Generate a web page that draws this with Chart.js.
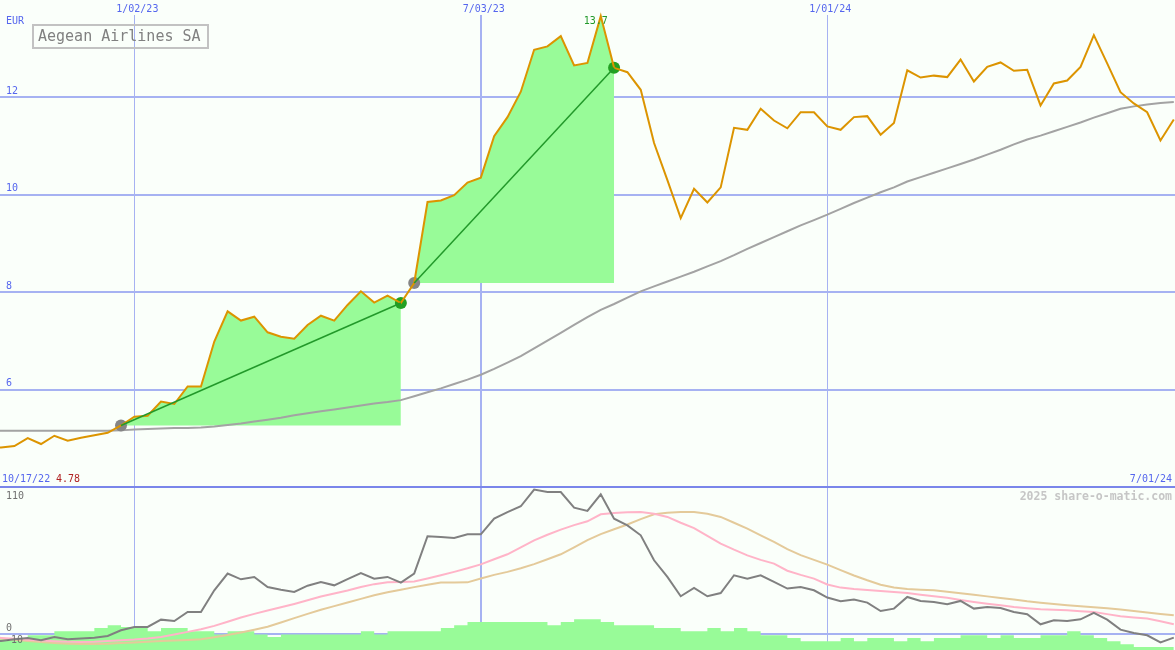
<!DOCTYPE html>
<html>
<head>
<meta charset="utf-8">
<script src="https://cdn.jsdelivr.net/npm/chart.js@4.4.1/dist/chart.umd.min.js"></script>
<style>
  html, body { margin: 0; padding: 0; background: #fafffa; }
  #wrap { position: relative; width: 1175px; height: 650px; overflow: hidden; }
  canvas { position: absolute; left: 0; }
  #top { top: 0; }
  #bottom { top: 486px; }
</style>
</head>
<body>
<div id="wrap">
  <canvas id="top" width="1175" height="486"></canvas>
  <canvas id="bottom" width="1175" height="164"></canvas>
</div>
<script>
// weekly closes, first point is week -11 (10/17/22), week 0 = 1/02/23
const FIRST_WEEK = -11

const price = [
  4.78, 4.82, 4.85, 5.01, 4.89, 5.06, 4.96, 5.02, 5.07, 5.12,
  5.27, 5.45, 5.47, 5.76, 5.71, 6.07, 6.07, 6.99, 7.61, 7.42,
  7.50, 7.18, 7.09, 7.05, 7.33, 7.52, 7.42, 7.74, 8.02, 7.79,
  7.93, 7.78, 8.19, 9.85, 9.88, 9.99, 10.25, 10.35, 11.20, 11.59,
  12.11, 12.97, 13.04, 13.25, 12.65, 12.70, 13.66, 12.60, 12.51, 12.15,
  11.06, 10.30, 9.52, 10.12, 9.84, 10.15, 11.37, 11.33, 11.76, 11.52,
  11.36, 11.69, 11.69, 11.40, 11.33, 11.59, 11.61, 11.23, 11.47, 12.55,
  12.40, 12.44, 12.41, 12.77, 12.32, 12.62, 12.71, 12.54, 12.56, 11.83,
  12.28, 12.34, 12.62, 13.27, 12.69, 12.10, 11.87, 11.69, 11.11, 11.54
]

const movingAvg = [
  5.16, 5.16, 5.16, 5.16, 5.16, 5.16, 5.16, 5.16, 5.16, 5.16,
  5.17, 5.19, 5.20, 5.21, 5.22, 5.22, 5.23, 5.25, 5.28, 5.31,
  5.35, 5.39, 5.43, 5.48, 5.52, 5.56, 5.60, 5.64, 5.68, 5.72,
  5.75, 5.79, 5.87, 5.95, 6.03, 6.12, 6.21, 6.31, 6.43, 6.56,
  6.69, 6.85, 7.01, 7.17, 7.33, 7.49, 7.64, 7.76, 7.89, 8.02,
  8.12, 8.22, 8.32, 8.42, 8.53, 8.64, 8.76, 8.89, 9.01, 9.13,
  9.25, 9.37, 9.48, 9.59, 9.71, 9.83, 9.94, 10.05, 10.15, 10.27,
  10.36, 10.45, 10.54, 10.63, 10.72, 10.82, 10.92, 11.03, 11.13, 11.21,
  11.30, 11.39, 11.48, 11.58, 11.67, 11.76, 11.81, 11.85, 11.88, 11.90
]

// lower panel
const momentum = [
  -6.0, -5.6, -4.2, -3.1, -5.0, -2.2, -4.2, -3.6, -2.8, -1.4,
  3.3, 6.1, 6.1, 12.2, 11.1, 18.6, 18.6, 36.7, 50.6, 45.8,
  47.8, 39.4, 37.2, 35.3, 40.5, 43.6, 40.8, 46.0, 51.1, 46.4,
  47.8, 43.1, 50.6, 81.7, 81.1, 80.3, 83.3, 83.3, 96.4, 101.9,
  106.7, 120.6, 118.6, 118.6, 105.6, 102.8, 116.7, 96.4, 90.8, 82.5,
  61.7, 47.8, 31.7, 38.6, 31.7, 34.4, 49.2, 46.4, 49.2, 43.6,
  38.1, 39.4, 36.7, 30.6, 27.5, 28.9, 26.4, 19.4, 21.4, 31.1,
  27.8, 26.9, 25.0, 27.8, 21.4, 22.8, 21.9, 18.6, 16.7, 8.3,
  11.7, 11.1, 12.5, 17.8, 12.2, 3.9, 1.1, -0.8, -6.7, -2.8
]

const signalFast = [
  -2.5, -3.0, -3.8, -4.5, -5.2, -5.8, -6.2, -6.4, -6.2, -5.6,
  -5.0, -4.4, -3.5, -2.2, -0.2, 2.0, 4.2, 7.0, 10.5, 14.0,
  17.0, 19.8, 22.5, 25.3, 28.3, 31.5, 34.0, 36.5, 39.4, 41.8,
  43.4, 43.6, 44.0, 46.5, 49.2, 52.0, 55.0, 58.3, 62.5, 66.7,
  72.5, 78.3, 83.0, 87.2, 91.0, 94.2, 100.0, 101.1, 101.7, 101.9,
  100.5, 97.8, 93.0, 88.5, 82.0, 75.6, 70.5, 65.8, 62.0, 58.9,
  53.0, 49.5, 46.4, 41.5, 38.9, 37.8, 37.0, 36.1, 35.2, 34.4,
  33.0, 31.7, 30.4, 28.5, 26.9, 25.5, 24.2, 22.8, 21.8, 20.8,
  20.4, 20.0, 19.3, 18.6, 16.8, 15.0, 14.0, 13.1, 10.8, 8.3
]

const signalSlow = [
  -3.0, -3.6, -4.5, -5.5, -6.5, -7.2, -7.8, -8.0, -8.0, -7.8,
  -7.3, -6.8, -6.2, -5.7, -5.2, -4.8, -4.2, -2.5, -0.6, 1.5,
  3.8, 6.3, 9.8, 13.5, 17.0, 20.5, 23.5, 26.5, 29.5, 32.5,
  35.0, 37.2, 39.3, 41.3, 43.1, 43.1, 43.3, 46.5, 49.5, 52.0,
  55.0, 58.5, 62.5, 66.7, 72.5, 78.5, 83.5, 87.5, 91.5, 96.0,
  100.0, 101.4, 101.9, 101.9, 100.5, 97.8, 93.0, 88.0, 82.5, 77.0,
  71.0, 66.0, 62.0, 58.1, 53.5, 49.0, 45.0, 41.3, 39.0, 37.8,
  37.2, 36.7, 35.5, 34.3, 33.0, 31.6, 30.3, 29.0, 27.5, 26.3,
  25.2, 24.2, 23.4, 22.6, 21.6, 20.6, 19.4, 18.2, 17.0, 15.8
]

const histogram = [
  -3.6, -3.6, -3.6, -3.6, -0.8, -0.8, 2.5, 2.5, 2.5, 5.3,
  7.5, 6.1, 5.3, 2.5, 5.3, 5.3, 2.5, 2.5, -0.2, 2.5,
  2.5, -0.2, -2.2, -0.2, -0.2, -0.2, -0.2, -0.2, -0.2, 2.5,
  -0.2, 2.5, 2.5, 2.5, 2.5, 5.3, 7.5, 10.3, 10.3, 10.3,
  10.3, 10.3, 10.3, 7.5, 10.3, 12.5, 12.5, 10.3, 7.5, 7.5,
  7.5, 5.3, 5.3, 2.5, 2.5, 5.3, 2.5, 5.3, 2.5, -0.8,
  -0.8, -3.1, -5.8, -5.8, -5.8, -3.1, -5.8, -3.1, -3.1, -5.8,
  -3.1, -5.8, -3.1, -3.1, -0.8, -0.8, -3.1, -0.8, -3.1, -3.1,
  -0.8, -0.8, 2.5, -0.8, -3.1, -5.8, -8.3, -10.6, -10.6, -10.6
]

// trades (week numbers)
const buyWeeks = [-1, 21]
const sellWeeks = [20, 36]
const peakWeek = 35

const xTickWeeks = [0, 26, 52]
const xTickLabels = ['1/02/23', '7/03/23', '1/01/24']
const yTicks = [6, 8, 10, 12]
const startLabel = '10/17/22'
const startPrice = '4.78'
const endLabel = '7/01/24'

const X_MIN = -10.08
const X_MAX = 78.09
const MONO = '"DejaVu Sans Mono", monospace'
const GRID = '#a6b2f2'
const BLUE = '#5566ee'
const BG = '#fafffa'

const pts = arr => arr.map((v, i) => ({ x: FIRST_WEEK + i, y: v }))
const at = (arr, week) => arr[week - FIRST_WEEK]

function xScaleCfg() {
  return {
    type: 'linear', min: X_MIN, max: X_MAX,
    ticks: { display: false }, border: { display: false },
    grid: {
      drawTicks: false, color: GRID,
      lineWidth: ctx => (ctx.tick && ctx.tick.value === 26 ? 2 : 1)
    },
    afterBuildTicks: s => { s.ticks = xTickWeeks.map(v => ({ value: v })) }
  }
}

// ---- top panel ----
const topDatasets = []
buyWeeks.forEach((b, n) => {
  const s = sellWeeks[n]
  topDatasets.push({
    data: pts(price).filter(p => p.x >= b && p.x <= s),
    borderWidth: 0, pointRadius: 0,
    backgroundColor: '#98fb98',
    fill: { value: at(price, b) },
    order: 10
  })
  topDatasets.push({
    data: [{ x: b, y: at(price, b) }, { x: s, y: at(price, s) }],
    borderColor: '#22992a', borderWidth: 1.5, pointRadius: 0,
    order: 2
  })
})
topDatasets.push({
  data: pts(movingAvg), borderColor: '#a3a3a3', borderWidth: 2, pointRadius: 0, order: 8
})
topDatasets.push({
  data: buyWeeks.map(w => ({ x: w, y: at(price, w) })),
  showLine: false, pointRadius: 6, pointBorderWidth: 0,
  pointBackgroundColor: '#858585', order: 6
})
topDatasets.push({
  data: sellWeeks.map(w => ({ x: w, y: at(price, w) })),
  showLine: false, pointRadius: 6, pointBorderWidth: 0,
  pointBackgroundColor: '#22a022', order: 6
})
topDatasets.push({
  data: pts(price), borderColor: '#dc9400', borderWidth: 2, pointRadius: 0, order: 4
})

const topOverlay = {
  id: 'topOverlay',
  afterDraw(chart) {
    const c = chart.ctx
    const xs = chart.scales.x
    const ys = chart.scales.y
    c.save()
    c.textBaseline = 'middle'
    c.font = '10px ' + MONO
    // date labels on top
    xTickWeeks.forEach((w, i) => {
      const px = xs.getPixelForValue(w)
      c.fillStyle = BG
      c.fillRect(px - 2, 0, 5, 15)
      c.fillStyle = BLUE
      c.textAlign = 'center'
      c.fillText(xTickLabels[i], px + 3, 9)
    })
    // value labels
    c.textAlign = 'left'
    c.fillStyle = BLUE
    yTicks.forEach(v => c.fillText(String(v), 6, ys.getPixelForValue(v) - 6))
    c.fillText('EUR', 6, 21)
    c.fillText(startLabel, 2, 479)
    c.fillStyle = '#b02222'
    c.fillText(startPrice, 56, 479)
    c.fillStyle = BLUE
    c.textAlign = 'right'
    c.fillText(endLabel, 1172, 479)
    // peak
    c.textAlign = 'center'
    c.fillStyle = '#22992a'
    c.fillText(at(price, peakWeek).toFixed(1), xs.getPixelForValue(peakWeek) - 5,
      ys.getPixelForValue(at(price, peakWeek)) + 5)
    // title box
    c.strokeStyle = '#c2c2c2'
    c.lineWidth = 2
    c.strokeRect(33, 25, 175, 23)
    c.fillStyle = '#808080'
    c.textAlign = 'left'
    c.font = '15px ' + MONO
    c.fillText('Aegean Airlines SA', 38, 37)
    c.restore()
  }
}

new Chart(document.getElementById('top'), {
  type: 'line',
  data: { datasets: topDatasets },
  options: {
    responsive: false, animation: false,
    layout: { padding: 0, autoPadding: false },
    plugins: { legend: { display: false }, tooltip: { enabled: false } },
    elements: { line: { tension: 0 } },
    scales: {
      x: xScaleCfg(),
      y: {
        min: 4.03, max: 13.99,
        ticks: { display: false }, border: { display: false },
        grid: { drawTicks: false, color: GRID, lineWidth: 2 },
        afterBuildTicks: s => { s.ticks = yTicks.map(v => ({ value: v })) }
      }
    }
  },
  plugins: [topOverlay]
})

// ---- bottom panel ----
const bottomOverlay = {
  id: 'bottomOverlay',
  afterDraw(chart) {
    const c = chart.ctx
    const ys = chart.scales.y
    c.save()
    c.fillStyle = '#7a86ea'
    c.fillRect(0, 0, chart.width, 2)
    c.textBaseline = 'middle'
    c.textAlign = 'left'
    c.font = '10px ' + MONO
    c.fillStyle = '#707070'
    ;[110, 0, -10].forEach(v => c.fillText(String(v), v < 0 ? 5 : 6, ys.getPixelForValue(v) - 6))
    c.textAlign = 'right'
    c.fillStyle = '#c6c6c6'
    c.font = 'bold 11.5px ' + MONO
    c.fillText('2025 share-o-matic.com', 1172, 11)
    c.restore()
  }
}

new Chart(document.getElementById('bottom'), {
  type: 'line',
  data: {
    datasets: [
      { data: pts(momentum), borderColor: '#808080', borderWidth: 2, pointRadius: 0, order: 1 },
      { data: pts(signalFast), borderColor: '#ffb4c8', borderWidth: 2, pointRadius: 0, order: 2 },
      { data: pts(signalSlow), borderColor: '#e4ca9a', borderWidth: 2, pointRadius: 0, order: 3 },
      {
        data: pts(histogram), stepped: 'after', fill: 'start',
        backgroundColor: '#98fb98', borderWidth: 0, pointRadius: 0, order: 10
      }
    ]
  },
  options: {
    responsive: false, animation: false,
    layout: { padding: 0, autoPadding: false },
    plugins: { legend: { display: false }, tooltip: { enabled: false } },
    elements: { line: { tension: 0 } },
    scales: {
      x: xScaleCfg(),
      y: {
        min: -13.1, max: 123.6,
        ticks: { display: false }, border: { display: false },
        grid: { drawTicks: false, color: GRID, lineWidth: 2 },
        afterBuildTicks: s => { s.ticks = [{ value: 0 }] }
      }
    }
  },
  plugins: [bottomOverlay]
})
</script>
</body>
</html>
